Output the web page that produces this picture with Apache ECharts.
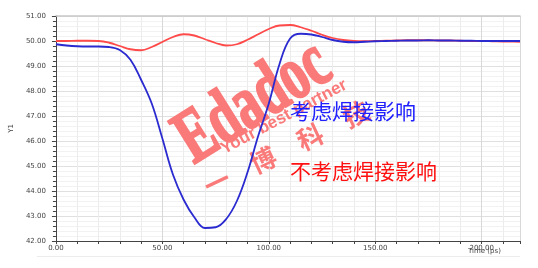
<!DOCTYPE html>
<html><head><meta charset="utf-8">
<script src="https://cdn.jsdelivr.net/npm/echarts@6/dist/echarts.min.js"></script>
<style>html,body{margin:0;padding:0;background:#fff}#c{width:538px;height:268px}</style>
</head><body><div id="c"></div>
<script>
const times = [0,5,10,15,20,25,30,35,40,45,50,55,60,65,70,75,80,85,90,95,100,105,110,115,120,125,130,135,140,145,150,155,160,165,170,175,180,185,190,195,200,205,210,215,218];
const withoutSolder = [50.00,50.00,50.01,50.01,50.00,49.93,49.80,49.67,49.63,49.76,49.96,50.16,50.27,50.22,50.07,49.92,49.82,49.87,50.05,50.27,50.48,50.62,50.64,50.55,50.41,50.25,50.12,50.04,50.00,49.99,50.00,50.01,50.02,50.03,50.03,50.03,50.02,50.02,50.01,50.00,50.00,49.99,49.98,49.98,49.97];
const withSolder = [49.87,49.82,49.79,49.78,49.78,49.76,49.64,49.25,48.45,47.50,46.10,44.65,43.65,42.95,42.52,42.55,42.88,43.60,44.75,46.20,47.50,49.07,50.10,50.29,50.26,50.16,50.04,49.97,49.95,49.97,49.99,50.00,50.01,50.02,50.02,50.03,50.02,50.02,50.01,50.01,50.00,50.00,50.00,50.00,50.00];
const xTicks = {min:0, max:218, interval:50};
const yTicks = {min:42, max:51, interval:1};
const labelWith = '考虑焊接影响';
const labelWithout = '不考虑焊接影响';
const wmMain = 'Edadoc';
const wmSub = 'Your best partner';
const wmChars = ['一','博','科','技'];

const chart = echarts.init(document.getElementById('c'));
const fmt = v => v.toFixed(2);
const wmFill = 'rgb(250,122,122)';
const charPos = [[217,182],[263,160],[310,137],[356,114]];
chart.setOption({
  animation:false,
  backgroundColor:'#fff',
  grid:{left:48, right:18, top:16, bottom:27},
  xAxis:[{
    type:'value', min:xTicks.min, max:xTicks.max, interval:xTicks.interval,
    axisLine:{show:true, onZero:false, lineStyle:{color:'#444', width:1}},
    axisTick:{show:true, length:3, lineStyle:{color:'#444'}},
    minorTick:{show:true, splitNumber:5, length:3, lineStyle:{color:'#444'}},
    splitLine:{show:true, lineStyle:{color:'#d8d8d8', width:1}},
    minorSplitLine:{show:true, lineStyle:{color:'#ececec', width:1}},
    axisLabel:{formatter:fmt, fontSize:7, color:'#444', margin:4, fontFamily:'DejaVu Sans', showMaxLabel:false}
  },{
    type:'value', position:'top', min:xTicks.min, max:xTicks.max,
    axisLine:{show:true, lineStyle:{color:'#c8c8c8', width:1.5}},
    axisTick:{show:false}, axisLabel:{show:false}, splitLine:{show:false}
  }],
  yAxis:{
    type:'value', min:yTicks.min, max:yTicks.max, interval:yTicks.interval,
    name:'Y1', nameLocation:'middle', nameGap:32, nameRotate:90,
    nameTextStyle:{fontSize:7, color:'#444', fontFamily:'DejaVu Sans'},
    axisLine:{show:true, onZero:false, lineStyle:{color:'#444', width:1}},
    axisTick:{show:true, length:4, lineStyle:{color:'#444'}},
    minorTick:{show:true, splitNumber:5, length:3, lineStyle:{color:'#444'}},
    splitLine:{show:true, lineStyle:{color:'#e0e0e0', width:1}},
    minorSplitLine:{show:true, lineStyle:{color:'#f2f2f2', width:1}},
    axisLabel:{formatter:fmt, fontSize:7, color:'#444', margin:10, fontFamily:'DejaVu Sans'}
  },
  series:[
    {type:'line', name:labelWithout, data:times.map((t,i)=>[t,withoutSolder[i]]), smooth:0.4, showSymbol:false,
     lineStyle:{color:'#ff4a4a', width:1.8}, z:3},
    {type:'line', name:labelWith, data:times.map((t,i)=>[t,withSolder[i]]), smooth:0.4, showSymbol:false,
     lineStyle:{color:'#2a2ad0', width:1.8}, z:4}
  ],
  graphic:[
    {type:'group', x:196, y:168, rotation:0.56, z:1, children:[
      {type:'text', x:0, y:14, scaleX:0.68, z:1,
       style:{text:wmMain, font:'bold 76px "Liberation Serif"', fill:wmFill, stroke:wmFill, lineWidth:2.5, align:'left', verticalAlign:'bottom'}}
    ]},
    {type:'text', x:222, y:150, rotation:0.49, z:1,
     style:{text:wmSub, font:'bold 17px "Liberation Sans"', fill:wmFill, align:'left', verticalAlign:'middle'}},
    ...wmChars.map((c,i)=>({type:'text', x:charPos[i][0], y:charPos[i][1], rotation:0.44, z:1,
     style:{text:c, font:'bold 26px "Noto Sans CJK SC"', fill:wmFill, align:'center', verticalAlign:'middle'}})),
    {type:'text', left:290, top:101, z:20, style:{text:labelWith, font:'21px "Noto Sans CJK SC"', fill:'#2020ff'}},
    {type:'text', left:290, top:161, z:20, style:{text:labelWithout, font:'21px "Noto Sans CJK SC"', fill:'#ff1010'}},
    {type:'text', left:468, top:248, style:{text:'Time (ps)', font:'7px "DejaVu Sans"', fill:'#444'}},
    {type:'line', shape:{x1:37, y1:256.5, x2:520, y2:256.5}, style:{stroke:'#ececec', lineWidth:1}}
  ]
});
</script></body></html>
